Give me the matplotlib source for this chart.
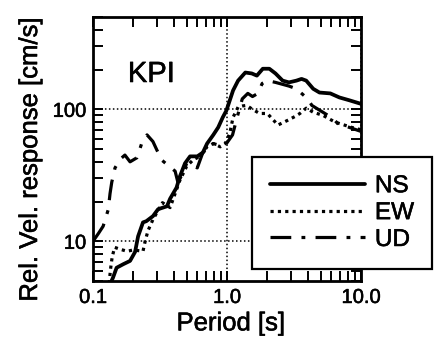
import matplotlib
matplotlib.use("Agg")
import matplotlib.pyplot as plt
import matplotlib.patheffects as pe
from matplotlib.ticker import FixedLocator, LogLocator, NullFormatter

plt.rcParams['font.family'] = ['Liberation Sans', 'DejaVu Sans']

# Relative velocity response spectra, station KPI
ns_period = [0.135, 0.141, 0.15, 0.168, 0.189, 0.206, 0.217, 0.236, 0.25, 0.28, 0.306,
             0.356, 0.376, 0.42, 0.445, 0.486, 0.53, 0.6, 0.66, 0.71, 0.79, 0.86, 0.93,
             0.99, 1.11, 1.21, 1.37, 1.53, 1.67, 1.85, 2.07, 2.3, 2.6, 2.9, 3.3, 3.6,
             3.9, 4.4, 4.9, 5.9, 6.9, 8.2, 10.0]
ns_vel = [4.8, 5.3, 6.3, 6.7, 7.1, 8.3, 10.9, 13.9, 14.2, 15.5, 17.5,
          18.4, 21.0, 25.5, 31, 39, 44, 44, 47, 55, 64, 73, 87,
          98, 139, 165, 190, 187, 180, 203, 203, 187, 165, 160, 165, 170,
          165, 143, 134, 132, 123, 117, 110]

ew_period = [0.132, 0.135, 0.139, 0.145, 0.159, 0.18, 0.2, 0.236, 0.245, 0.257, 0.28,
             0.33, 0.376, 0.41, 0.445, 0.5, 0.56, 0.63, 0.71, 0.79, 0.89, 0.97, 1.05,
             1.11, 1.21, 1.3, 1.4, 1.55, 1.75, 2.0, 2.4, 2.8, 3.2, 3.5, 3.9, 4.4, 5.2,
             6.4, 7.5, 8.5, 10.0]
ew_vel = [4.8, 6.1, 7.6, 9.0, 8.7, 8.4, 8.6, 8.4, 10, 12, 14.6,
          19.6, 18, 23, 29, 37, 41.5, 44, 52, 55, 52, 55, 66,
          87, 104, 106, 107, 100, 93, 93, 76, 82, 88, 93, 102, 95, 90,
          80, 76, 73, 70]

ud_period = [0.1, 0.11, 0.119, 0.13, 0.134, 0.138, 0.146, 0.16, 0.173, 0.189, 0.213,
             0.232, 0.253, 0.28, 0.3, 0.328, 0.37, 0.41, 0.43, 0.47, 0.5, 0.6, 0.66,
             0.79, 0.9, 0.99, 1.1, 1.19, 1.3, 1.43, 1.55, 1.7, 1.83, 2.0, 2.3, 2.9,
             3.3, 4.0, 4.3, 5.2, 6.2, 6.7, 8.5, 10.0]
ud_vel = [10, 11.5, 13, 17.4, 23, 28, 36, 42, 45, 40, 43,
          56, 64, 57, 49, 41, 37, 34, 28, 33, 39, 36, 47,
          55, 53, 55, 64, 87, 120, 132, 125, 132, 157, 165, 160, 150,
          143, 120, 107, 95, 85, 78, 72, 68]

series_names = ["NS", "EW", "UD"]
x_ticks = [0.1, 1.0, 10.0]
x_tick_labels = ["0.1", "1.0", "10.0"]
y_ticks = [10, 100]
y_tick_labels = ["10", "100"]

# slightly heavier glyph strokes
thick = [pe.withStroke(linewidth=0.4, foreground="black")]

fig = plt.figure(figsize=(4.34, 3.45), dpi=100)
ax = fig.add_axes([0.2143, 0.1855, 0.6175, 0.765])

ax.plot(ns_period, ns_vel, color="black", lw=2.7, linestyle="-",
        label=series_names[0], solid_capstyle="round")
ax.plot(ew_period, ew_vel, color="black", lw=2.3, linestyle=(0, (1.0, 1.3)),
        label=series_names[1])
ax.plot(ud_period, ud_vel, color="black", lw=2.3, linestyle=(0, (6.5, 3.2, 1.2, 3.2)),
        label=series_names[2])

ax.set_xscale("log")
ax.set_yscale("log")
ax.set_xlim(0.1, 10.0)
ax.set_ylim(5, 500)

ax.xaxis.set_major_locator(FixedLocator(x_ticks))
ax.set_xticklabels(x_tick_labels)
ax.yaxis.set_major_locator(FixedLocator(y_ticks))
ax.set_yticklabels(y_tick_labels)
ax.xaxis.set_minor_locator(LogLocator(base=10, subs=range(2, 10)))
ax.yaxis.set_minor_locator(LogLocator(base=10, subs=range(2, 10)))
ax.xaxis.set_minor_formatter(NullFormatter())
ax.yaxis.set_minor_formatter(NullFormatter())

ax.tick_params(which="both", direction="in", top=True, right=True,
               labelsize=14.5, colors="black", width=1.4)
ax.tick_params(which="major", length=7, pad=5)
ax.tick_params(which="minor", length=7)
for lbl in ax.get_xticklabels() + ax.get_yticklabels():
    lbl.set_path_effects(thick)

ax.grid(True, which="major", color="black", linestyle=(0, (1, 1.6)), linewidth=1.1)

for sp in ax.spines.values():
    sp.set_linewidth(2.0)

ax.set_xlabel("Period [s]", fontsize=18.5, path_effects=thick)
ax.set_ylabel("Rel. Vel. response [cm/s]", fontsize=18.5, path_effects=thick)
ax.xaxis.set_label_coords(0.515, -0.115)
ax.yaxis.set_label_coords(-0.235, 0.462)
ax.yaxis.label.set_va("center")

ax.text(0.13, 0.754, "KPI", transform=ax.transAxes, fontsize=21,
        ha="left", va="baseline", path_effects=thick)

leg = ax.legend(loc="upper left", bbox_to_anchor=(0.581, 0.545),
                bbox_transform=fig.transFigure, fontsize=17.5, frameon=True,
                fancybox=False, handlelength=3.9, handletextpad=0.4,
                labelspacing=0.2, borderpad=0.75, borderaxespad=0,
                edgecolor="black", framealpha=1.0)
leg.get_frame().set_linewidth(1.6)
leg.set_zorder(5)
for t in leg.get_texts():
    t.set_path_effects(thick)

fig.savefig("out.png", dpi=100)
